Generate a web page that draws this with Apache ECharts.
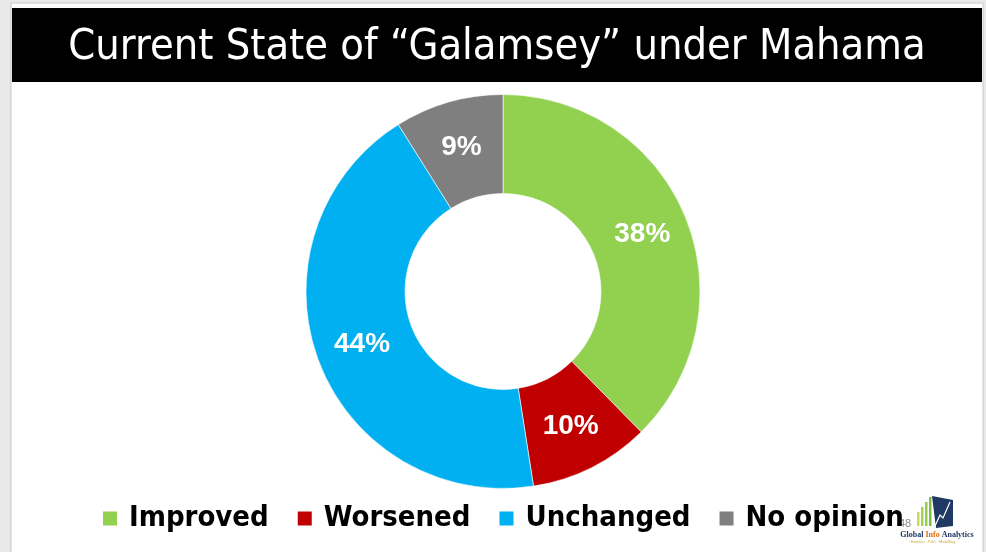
<!DOCTYPE html>
<html>
<head>
<meta charset="utf-8">
<script src="https://cdn.jsdelivr.net/npm/echarts@6/dist/echarts.min.js"></script>
<style>
html,body{margin:0;padding:0;background:#e9e9e9;}
#chart{width:986px;height:552px;}
</style>
</head>
<body>
<div id="chart"></div>
<script>
var titleText = 'Current State of \u201cGalamsey\u201d under Mahama';
var categories = ['Improved', 'Worsened', 'Unchanged', 'No opinion'];
var values = [38, 10, 44, 9];
var colors = ['#92D050', '#C00000', '#00B0F0', '#7F7F7F'];

var chart = echarts.init(document.getElementById('chart'));
var option = {
  backgroundColor: '#e9e9e9',
  animation: false,
  graphic: [
    { type: 'rect', z: 0, shape: { x: 11, y: 3, width: 972, height: 560 }, style: { fill: '#ffffff', stroke: '#c8c8c8', lineWidth: 1 } },
    { type: 'rect', z: 1, shape: { x: 12, y: 8, width: 970, height: 74 }, style: { fill: '#000000' } },
    { type: 'text', z: 2, x: 497, y: 48, style: { text: titleText, fill: '#ffffff', font: '43px "Liberation Sans Narrow", "DejaVu Sans Condensed", sans-serif', textAlign: 'center', textVerticalAlign: 'middle' } },
    // logo
    { type: 'text', z: 1, x: 899, y: 518, style: { text: '48', fill: '#8c8c8c', font: '11px "Liberation Sans", sans-serif' } },
    { type: 'polygon', z: 2, shape: { points: [[932, 496], [953, 500], [953, 526], [936, 528]] }, style: { fill: '#1f3864' } },
    { type: 'polyline', z: 3, shape: { points: [[935, 526], [940, 515], [943, 518], [950, 502]] }, style: { stroke: '#ffffff', lineWidth: 1.2, fill: null } },
    { type: 'rect', z: 2, shape: { x: 917, y: 512, width: 2.5, height: 14 }, style: { fill: '#c4dc5a' } },
    { type: 'rect', z: 2, shape: { x: 921, y: 507, width: 2.5, height: 19 }, style: { fill: '#a8d24e' } },
    { type: 'rect', z: 2, shape: { x: 925, y: 502, width: 2.5, height: 24 }, style: { fill: '#92D050' } },
    { type: 'rect', z: 2, shape: { x: 929, y: 497, width: 2.5, height: 29 }, style: { fill: '#7cc242' } },
    { type: 'text', z: 3, x: 937, y: 535, style: { text: '{a|Global }{b|Info}{a| Analytics}', textAlign: 'center', textVerticalAlign: 'middle', rich: { a: { fill: '#1f3864', font: 'bold 8px "Liberation Serif", serif' }, b: { fill: '#e36c09', font: 'bold 8px "Liberation Serif", serif' } } } },
    { type: 'text', z: 3, x: 932, y: 542, style: { text: '\u00b7Analytics \u00b7 Polls \u00b7 Modelling', fill: '#c9a227', font: 'italic 4px "Liberation Serif", serif', textAlign: 'center', textVerticalAlign: 'middle' } }
  ],
  legend: {
    bottom: 19,
    left: 101,
    padding: 0,
    icon: 'rect',
    itemWidth: 16,
    itemHeight: 16,
    itemGap: 27,
    data: categories,
    textStyle: { fontSize: 29, fontWeight: 'bold', color: '#000000', fontFamily: '"Liberation Sans Narrow", "DejaVu Sans Condensed", sans-serif', padding: [0, 0, 0, 6] }
  },
  series: [{
    type: 'pie',
    center: [503, 291.5],
    radius: [98, 197],
    startAngle: 90,
    clockwise: true,
    avoidLabelOverlap: false,
    itemStyle: { borderColor: '#ffffff', borderWidth: 0.6 },
    label: {
      show: true,
      position: 'inside',
      formatter: '{c}%',
      color: '#ffffff',
      fontSize: 28,
      fontWeight: 'bold',
      fontFamily: '"Liberation Sans", Arial, sans-serif',
      padding: [6, 0, 0, 0]
    },
    labelLine: { show: false },
    emphasis: { disabled: true },
    data: categories.map(function (c, i) {
      return { name: c, value: values[i], itemStyle: { color: colors[i] } };
    })
  }]
};
chart.setOption(option);
</script>
</body>
</html>
